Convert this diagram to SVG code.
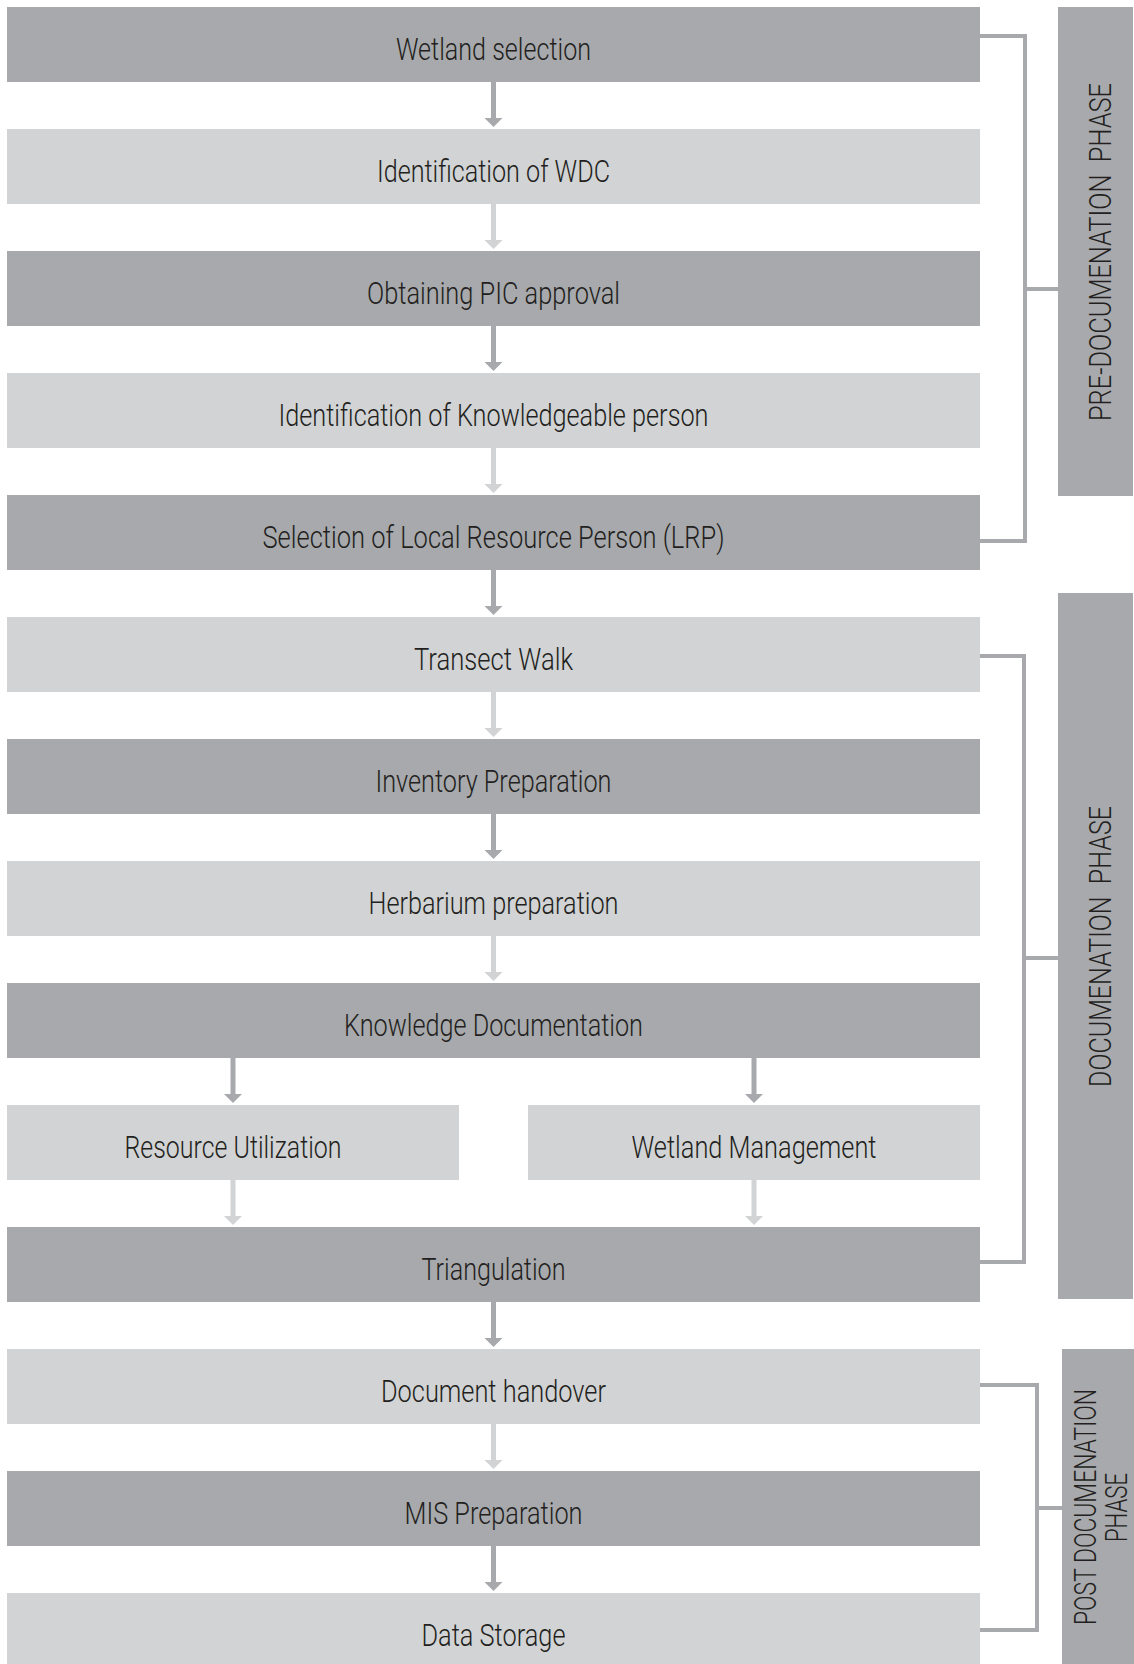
<svg xmlns="http://www.w3.org/2000/svg" width="1134" height="1664" viewBox="0 0 1134 1664">
<defs>
<style>
.dark{fill:#a7a9ac}
.light{fill:#d1d3d4}
.t{font-family:Roboto,"Liberation Sans",sans-serif;font-weight:300;font-size:31px;fill:#231f20;text-anchor:middle;white-space:pre}
.cd{stroke:#a7a9ac;stroke-width:5;fill:none}
.cl{stroke:#d1d3d4;stroke-width:5;fill:none}
.br{stroke:#a7a9ac;stroke-width:4;fill:none}
</style>
<marker id="ad" markerUnits="userSpaceOnUse" viewBox="0 0 9 18" markerWidth="9" markerHeight="18" refX="0" refY="9" orient="auto"><path d="M0,0 L9,9 L0,18 z" fill="#a7a9ac"/></marker>
<marker id="al" markerUnits="userSpaceOnUse" viewBox="0 0 9 18" markerWidth="9" markerHeight="18" refX="0" refY="9" orient="auto"><path d="M0,0 L9,9 L0,18 z" fill="#d1d3d4"/></marker>
</defs>
<rect width="1134" height="1664" fill="#ffffff"/>

<g id="connectors">
<line class="cd" x1="493.5" y1="82" x2="493.5" y2="118" marker-end="url(#ad)"/>
<line class="cl" x1="493.5" y1="204" x2="493.5" y2="240" marker-end="url(#al)"/>
<line class="cd" x1="493.5" y1="326" x2="493.5" y2="362" marker-end="url(#ad)"/>
<line class="cl" x1="493.5" y1="448" x2="493.5" y2="484" marker-end="url(#al)"/>
<line class="cd" x1="493.5" y1="570" x2="493.5" y2="606" marker-end="url(#ad)"/>
<line class="cl" x1="493.5" y1="692" x2="493.5" y2="728" marker-end="url(#al)"/>
<line class="cd" x1="493.5" y1="814" x2="493.5" y2="850" marker-end="url(#ad)"/>
<line class="cl" x1="493.5" y1="936" x2="493.5" y2="972" marker-end="url(#al)"/>
<line class="cd" x1="233" y1="1058" x2="233" y2="1094" marker-end="url(#ad)"/>
<line class="cd" x1="754" y1="1058" x2="754" y2="1094" marker-end="url(#ad)"/>
<line class="cl" x1="233" y1="1180" x2="233" y2="1216" marker-end="url(#al)"/>
<line class="cl" x1="754" y1="1180" x2="754" y2="1216" marker-end="url(#al)"/>
<line class="cd" x1="493.5" y1="1302" x2="493.5" y2="1338" marker-end="url(#ad)"/>
<line class="cl" x1="493.5" y1="1424" x2="493.5" y2="1460" marker-end="url(#al)"/>
<line class="cd" x1="493.5" y1="1546" x2="493.5" y2="1582" marker-end="url(#ad)"/>
<path class="br" d="M980,36 H1025 V541 H980 M1025,289 H1058"/>
<path class="br" d="M980,656 H1024 V1262 H980 M1024,958 H1058"/>
<path class="br" d="M980,1385 H1037 V1630 H980 M1037,1508 H1062"/>
</g>

<g id="n1"><rect class="dark" x="7" y="7" width="973" height="75"/><text class="t" x="493.5" y="60" textLength="195" lengthAdjust="spacingAndGlyphs">Wetland selection</text></g>
<g id="n2"><rect class="light" x="7" y="129" width="973" height="75"/><text class="t" x="493.5" y="182" textLength="233" lengthAdjust="spacingAndGlyphs">Identification of WDC</text></g>
<g id="n3"><rect class="dark" x="7" y="251" width="973" height="75"/><text class="t" x="493.5" y="304" textLength="253" lengthAdjust="spacingAndGlyphs">Obtaining PIC approval</text></g>
<g id="n4"><rect class="light" x="7" y="373" width="973" height="75"/><text class="t" x="493.5" y="426" textLength="430" lengthAdjust="spacingAndGlyphs">Identification of Knowledgeable person</text></g>
<g id="n5"><rect class="dark" x="7" y="495" width="973" height="75"/><text class="t" x="493.5" y="548" textLength="462" lengthAdjust="spacingAndGlyphs">Selection of Local Resource Person (LRP)</text></g>
<g id="n6"><rect class="light" x="7" y="617" width="973" height="75"/><text class="t" x="493.5" y="670" textLength="159" lengthAdjust="spacingAndGlyphs">Transect Walk</text></g>
<g id="n7"><rect class="dark" x="7" y="739" width="973" height="75"/><text class="t" x="493.5" y="792" textLength="236" lengthAdjust="spacingAndGlyphs">Inventory Preparation</text></g>
<g id="n8"><rect class="light" x="7" y="861" width="973" height="75"/><text class="t" x="493.5" y="914" textLength="250" lengthAdjust="spacingAndGlyphs">Herbarium preparation</text></g>
<g id="n9"><rect class="dark" x="7" y="983" width="973" height="75"/><text class="t" x="493.5" y="1036" textLength="299" lengthAdjust="spacingAndGlyphs">Knowledge Documentation</text></g>
<g id="n10"><rect class="light" x="7" y="1105" width="452" height="75"/><text class="t" x="233" y="1158" textLength="217" lengthAdjust="spacingAndGlyphs">Resource Utilization</text></g>
<g id="n11"><rect class="light" x="528" y="1105" width="452" height="75"/><text class="t" x="754" y="1158" textLength="245" lengthAdjust="spacingAndGlyphs">Wetland Management</text></g>
<g id="n12"><rect class="dark" x="7" y="1227" width="973" height="75"/><text class="t" x="493.5" y="1280" textLength="144" lengthAdjust="spacingAndGlyphs">Triangulation</text></g>
<g id="n13"><rect class="light" x="7" y="1349" width="973" height="75"/><text class="t" x="493.5" y="1402" textLength="225" lengthAdjust="spacingAndGlyphs">Document handover</text></g>
<g id="n14"><rect class="dark" x="7" y="1471" width="973" height="75"/><text class="t" x="493.5" y="1524" textLength="178" lengthAdjust="spacingAndGlyphs">MIS Preparation</text></g>
<g id="n15"><rect class="light" x="7" y="1593" width="973" height="75"/><text class="t" x="493.5" y="1646" textLength="144" lengthAdjust="spacingAndGlyphs">Data Storage</text></g>

<g id="phase-pre"><rect class="dark" x="1058" y="7" width="75" height="489"/><text class="t" transform="translate(1111,252) rotate(-90)" textLength="338" lengthAdjust="spacingAndGlyphs">PRE-DOCUMENATION  PHASE</text></g>
<g id="phase-doc"><rect class="dark" x="1058" y="593" width="75" height="706"/><text class="t" transform="translate(1111,946.5) rotate(-90)" textLength="281" lengthAdjust="spacingAndGlyphs">DOCUMENATION  PHASE</text></g>
<g id="phase-post"><rect class="dark" x="1062" y="1349" width="72" height="315"/><text class="t" transform="translate(1096,1507) rotate(-90)" textLength="236" lengthAdjust="spacingAndGlyphs">POST DOCUMENATION</text><text class="t" transform="translate(1127,1507.5) rotate(-90)" textLength="69" lengthAdjust="spacingAndGlyphs">PHASE</text></g>
</svg>
